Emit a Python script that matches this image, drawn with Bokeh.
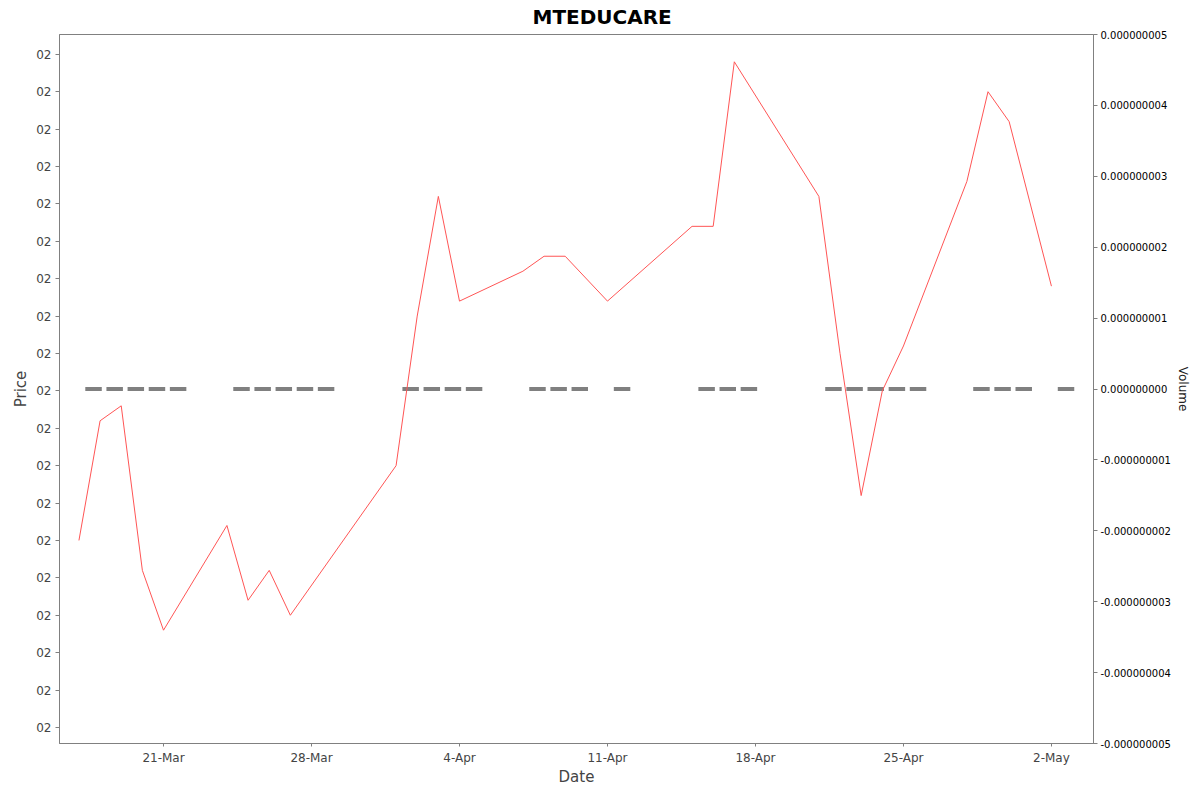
import pandas as pd
from bokeh.plotting import figure
from bokeh.models import LinearAxis, Range1d, FixedTicker, CustomJSTickFormatter
from bokeh.embed import file_html
from bokeh.resources import INLINE

# ---- data ----
title_text = "MTEDUCARE"
price_dates = ["2025-03-17", "2025-03-18", "2025-03-19", "2025-03-20", "2025-03-21",
               "2025-03-24", "2025-03-25", "2025-03-26", "2025-03-27",
               "2025-04-01", "2025-04-02", "2025-04-03", "2025-04-04",
               "2025-04-07", "2025-04-08", "2025-04-09", "2025-04-11",
               "2025-04-15", "2025-04-16", "2025-04-17",
               "2025-04-21", "2025-04-22", "2025-04-23", "2025-04-24", "2025-04-25",
               "2025-04-28", "2025-04-29", "2025-04-30", "2025-05-02"]
price = [5.0, 8.2, 8.6, 4.2, 2.6,
         5.4, 3.4, 4.2, 3.0,
         7.0, 11.0, 14.2, 11.4,
         12.2, 12.6, 12.6, 11.4,
         13.4, 13.4, 17.8,
         14.2, 10.0, 6.2, 9.0, 10.2,
         14.6, 17.0, 16.2, 11.8]

volume_dates = ["2025-03-17", "2025-03-18", "2025-03-19", "2025-03-20", "2025-03-21",
                "2025-03-24", "2025-03-25", "2025-03-26", "2025-03-27", "2025-03-28",
                "2025-04-01", "2025-04-02", "2025-04-03", "2025-04-04",
                "2025-04-07", "2025-04-08", "2025-04-09", "2025-04-11",
                "2025-04-15", "2025-04-16", "2025-04-17",
                "2025-04-21", "2025-04-22", "2025-04-23", "2025-04-24", "2025-04-25",
                "2025-04-28", "2025-04-29", "2025-04-30", "2025-05-02"]
volume = [0.0] * len(volume_dates)

x_tick_dates = ["2025-03-21", "2025-03-28", "2025-04-04", "2025-04-11",
                "2025-04-18", "2025-04-25", "2025-05-02"]
price_ticks = list(range(0, 19))
price_tick_label = "02"
volume_ticks = [i * 1e-9 for i in range(-5, 6)]

# ---- build ----
pd_price_dates = pd.to_datetime(price_dates)
pd_vol_dates = pd.to_datetime(volume_dates)
tick_ms = [d.timestamp() * 1000 for d in pd.to_datetime(x_tick_dates)]
day = pd.Timedelta(days=1)

ref = pd.Timestamp("2025-03-21")
x_start = ref - 4.92 * day
x_end = ref + 43.99 * day

FONT = "DejaVu Sans"

p = figure(frame_width=1034, frame_height=709,
           x_axis_type="datetime",
           x_range=Range1d(x_start, x_end),
           y_range=Range1d(-0.43, 18.53),
           output_backend="svg", toolbar_location=None,
           min_border_left=59, min_border_right=100,
           min_border_top=34, min_border_bottom=45,
           title=title_text)

p.background_fill_color = "white"
p.border_fill_color = "white"
p.outline_line_color = "#808080"
p.outline_line_width = 1
p.xgrid.visible = False
p.ygrid.visible = False

p.title.align = "left"
p.title.offset = 473
p.title.vertical_align = "top"
p.title.standoff = 8
p.title.text_font = FONT
p.title.text_font_size = "20px"
p.title.text_font_style = "bold"
p.title.text_color = "black"

p.extra_y_ranges = {"volume": Range1d(-5e-9, 5e-9)}

# volume dashes (zero-height bars)
p.segment(x0=pd_vol_dates + 0.3 * day, y0=volume,
          x1=pd_vol_dates + 1.08 * day, y1=volume,
          y_range_name="volume", line_color="#808080", line_width=4,
          line_cap="butt")

# price line
p.line(pd_price_dates, price, line_color="#ff5555", line_width=1)

# x axis
xa = p.xaxis[0]
xa.ticker = FixedTicker(ticks=tick_ms)
xa.formatter = CustomJSTickFormatter(code="""
const m = ["Jan","Feb","Mar","Apr","May","Jun","Jul","Aug","Sep","Oct","Nov","Dec"];
const d = new Date(tick);
return d.getUTCDate() + "-" + m[d.getUTCMonth()];
""")
xa.axis_label = "Date"
xa.minor_tick_line_color = None
xa.major_tick_out = 3
xa.major_tick_in = 0
xa.major_label_standoff = 4
xa.axis_label_standoff = 0

# left axis
ya = p.yaxis[0]
ya.ticker = FixedTicker(ticks=price_ticks)
ya.formatter = CustomJSTickFormatter(code='return "%s";' % price_tick_label)
ya.axis_label = "Price"
ya.minor_tick_line_color = None
ya.major_tick_out = 4
ya.major_tick_in = 0
ya.major_label_standoff = 4
ya.axis_label_standoff = 3

for ax in (xa, ya):
    ax.axis_line_color = "#808080"
    ax.major_tick_line_color = "#808080"
    ax.major_label_text_font = FONT
    ax.major_label_text_font_size = "12px"
    ax.major_label_text_color = "#444444"
    ax.axis_label_text_font = FONT
    ax.axis_label_text_font_size = "15px"
    ax.axis_label_text_font_style = "normal"
    ax.axis_label_text_color = "#444444"

# right volume axis
va = LinearAxis(y_range_name="volume", axis_label="Volume",
                ticker=FixedTicker(ticks=volume_ticks),
                formatter=CustomJSTickFormatter(code="return tick.toFixed(9);"))
va.axis_line_color = "#808080"
va.major_tick_line_color = "#808080"
va.minor_tick_line_color = None
va.major_tick_out = 4
va.major_tick_in = 0
va.major_label_standoff = 3
va.major_label_text_font = FONT
va.major_label_text_font_size = "10px"
va.major_label_text_color = "black"
va.axis_label_text_font = FONT
va.axis_label_text_font_size = "12px"
va.axis_label_text_font_style = "normal"
va.axis_label_text_color = "#222222"
va.axis_label_standoff = 2
p.add_layout(va, "right")

open("out.html", "w").write(file_html(p, INLINE))
